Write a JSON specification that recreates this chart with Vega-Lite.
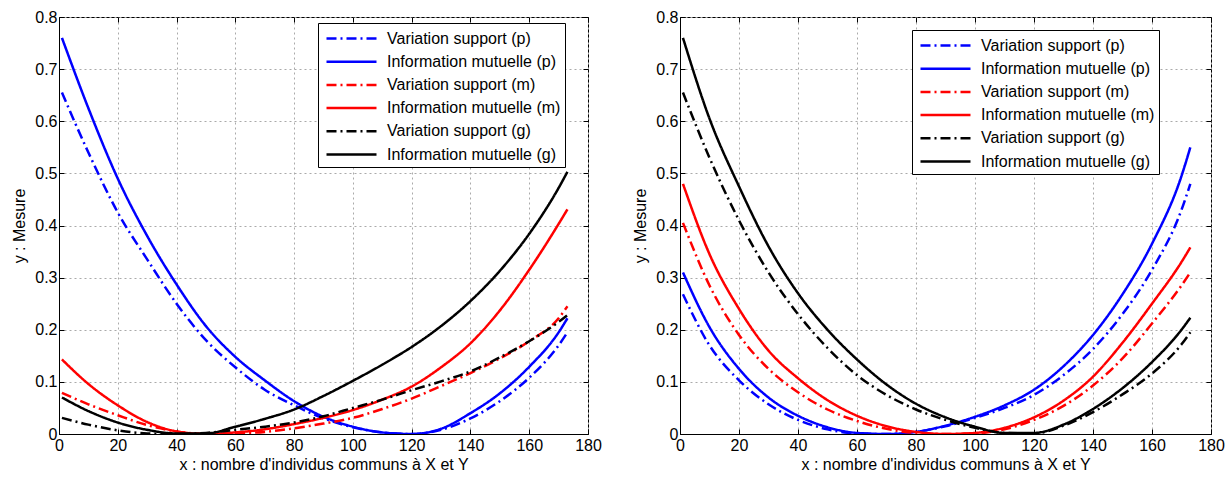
{
  "$schema": "https://vega.github.io/schema/vega-lite/v6.json",
  "background": "white",
  "padding": {"left": 11, "top": 8, "right": 2, "bottom": 2},
  "config": {
    "font": "Liberation Sans",
    "view": {"stroke": "black", "strokeWidth": 1},
    "concat": {"spacing": 30},
    "axis": {
      "labelFont": "Liberation Sans", "labelFontSize": 16, "labelColor": "black", "labelFlush": false,
      "titleFont": "Liberation Sans", "titleFontSize": 16, "titleFontWeight": "normal", "titleColor": "black",
      "domainColor": "black", "tickColor": "black", "tickSize": -5,
      "grid": true, "gridColor": "#aaaaaa", "gridDash": [2, 3], "gridWidth": 1
    },
    "axisX": {"titlePadding": 3, "labelPadding": 8},
    "axisY": {"titlePadding": 7, "labelPadding": 7},
    "legend": {
      "title": null, "fillColor": "white", "strokeColor": "black", "padding": 4,
      "labelFont": "Liberation Sans", "labelFontSize": 16, "labelColor": "black", "labelLimit": 400,
      "symbolType": "M-2.5,0H2.5", "symbolSize": 400, "symbolStrokeWidth": 2.5,
      "symbolOffset": 18, "labelOffset": 24, "rowPadding": 3.2
    }
  },
  "datasets": {
    "left": [
      {"s": "Variation support (p)", "x": 1, "y": 0.655}, {"s": "Variation support (p)", "x": 10, "y": 0.54}, {"s": "Variation support (p)", "x": 20, "y": 0.425}, {"s": "Variation support (p)", "x": 30, "y": 0.335}, {"s": "Variation support (p)", "x": 40, "y": 0.25}, {"s": "Variation support (p)", "x": 50, "y": 0.18}, {"s": "Variation support (p)", "x": 60, "y": 0.128}, {"s": "Variation support (p)", "x": 70, "y": 0.085}, {"s": "Variation support (p)", "x": 80, "y": 0.055}, {"s": "Variation support (p)", "x": 90, "y": 0.03}, {"s": "Variation support (p)", "x": 100, "y": 0.013}, {"s": "Variation support (p)", "x": 110, "y": 0.003}, {"s": "Variation support (p)", "x": 120, "y": 0}, {"s": "Variation support (p)", "x": 130, "y": 0.008}, {"s": "Variation support (p)", "x": 140, "y": 0.03}, {"s": "Variation support (p)", "x": 150, "y": 0.063}, {"s": "Variation support (p)", "x": 160, "y": 0.108}, {"s": "Variation support (p)", "x": 170, "y": 0.17}, {"s": "Variation support (p)", "x": 173, "y": 0.195},
      {"s": "Information mutuelle (p)", "x": 1, "y": 0.76}, {"s": "Information mutuelle (p)", "x": 10, "y": 0.625}, {"s": "Information mutuelle (p)", "x": 20, "y": 0.49}, {"s": "Information mutuelle (p)", "x": 30, "y": 0.38}, {"s": "Information mutuelle (p)", "x": 40, "y": 0.287}, {"s": "Information mutuelle (p)", "x": 50, "y": 0.207}, {"s": "Information mutuelle (p)", "x": 60, "y": 0.148}, {"s": "Information mutuelle (p)", "x": 70, "y": 0.103}, {"s": "Information mutuelle (p)", "x": 80, "y": 0.063}, {"s": "Information mutuelle (p)", "x": 90, "y": 0.033}, {"s": "Information mutuelle (p)", "x": 100, "y": 0.014}, {"s": "Information mutuelle (p)", "x": 110, "y": 0.003}, {"s": "Information mutuelle (p)", "x": 120, "y": 0}, {"s": "Information mutuelle (p)", "x": 130, "y": 0.01}, {"s": "Information mutuelle (p)", "x": 140, "y": 0.04}, {"s": "Information mutuelle (p)", "x": 150, "y": 0.078}, {"s": "Information mutuelle (p)", "x": 160, "y": 0.129}, {"s": "Information mutuelle (p)", "x": 170, "y": 0.195}, {"s": "Information mutuelle (p)", "x": 173, "y": 0.222},
      {"s": "Variation support (m)", "x": 1, "y": 0.079}, {"s": "Variation support (m)", "x": 10, "y": 0.057}, {"s": "Variation support (m)", "x": 20, "y": 0.036}, {"s": "Variation support (m)", "x": 30, "y": 0.017}, {"s": "Variation support (m)", "x": 40, "y": 0.005}, {"s": "Variation support (m)", "x": 50, "y": 0}, {"s": "Variation support (m)", "x": 60, "y": 0.001}, {"s": "Variation support (m)", "x": 70, "y": 0.004}, {"s": "Variation support (m)", "x": 80, "y": 0.011}, {"s": "Variation support (m)", "x": 90, "y": 0.02}, {"s": "Variation support (m)", "x": 100, "y": 0.031}, {"s": "Variation support (m)", "x": 110, "y": 0.048}, {"s": "Variation support (m)", "x": 120, "y": 0.068}, {"s": "Variation support (m)", "x": 130, "y": 0.092}, {"s": "Variation support (m)", "x": 140, "y": 0.117}, {"s": "Variation support (m)", "x": 150, "y": 0.145}, {"s": "Variation support (m)", "x": 160, "y": 0.178}, {"s": "Variation support (m)", "x": 170, "y": 0.222}, {"s": "Variation support (m)", "x": 173, "y": 0.245},
      {"s": "Information mutuelle (m)", "x": 1, "y": 0.143}, {"s": "Information mutuelle (m)", "x": 10, "y": 0.096}, {"s": "Information mutuelle (m)", "x": 20, "y": 0.055}, {"s": "Information mutuelle (m)", "x": 30, "y": 0.023}, {"s": "Information mutuelle (m)", "x": 40, "y": 0.005}, {"s": "Information mutuelle (m)", "x": 50, "y": 0}, {"s": "Information mutuelle (m)", "x": 60, "y": 0.003}, {"s": "Information mutuelle (m)", "x": 70, "y": 0.009}, {"s": "Information mutuelle (m)", "x": 80, "y": 0.019}, {"s": "Information mutuelle (m)", "x": 90, "y": 0.031}, {"s": "Information mutuelle (m)", "x": 100, "y": 0.046}, {"s": "Information mutuelle (m)", "x": 110, "y": 0.066}, {"s": "Information mutuelle (m)", "x": 120, "y": 0.091}, {"s": "Information mutuelle (m)", "x": 130, "y": 0.128}, {"s": "Information mutuelle (m)", "x": 140, "y": 0.174}, {"s": "Information mutuelle (m)", "x": 150, "y": 0.237}, {"s": "Information mutuelle (m)", "x": 160, "y": 0.315}, {"s": "Information mutuelle (m)", "x": 170, "y": 0.403}, {"s": "Information mutuelle (m)", "x": 173, "y": 0.431},
      {"s": "Variation support (g)", "x": 1, "y": 0.031}, {"s": "Variation support (g)", "x": 10, "y": 0.018}, {"s": "Variation support (g)", "x": 20, "y": 0.007}, {"s": "Variation support (g)", "x": 30, "y": 0.001}, {"s": "Variation support (g)", "x": 40, "y": 0}, {"s": "Variation support (g)", "x": 50, "y": 0.002}, {"s": "Variation support (g)", "x": 60, "y": 0.008}, {"s": "Variation support (g)", "x": 70, "y": 0.014}, {"s": "Variation support (g)", "x": 80, "y": 0.022}, {"s": "Variation support (g)", "x": 90, "y": 0.034}, {"s": "Variation support (g)", "x": 100, "y": 0.05}, {"s": "Variation support (g)", "x": 110, "y": 0.066}, {"s": "Variation support (g)", "x": 120, "y": 0.084}, {"s": "Variation support (g)", "x": 130, "y": 0.101}, {"s": "Variation support (g)", "x": 140, "y": 0.12}, {"s": "Variation support (g)", "x": 150, "y": 0.147}, {"s": "Variation support (g)", "x": 160, "y": 0.178}, {"s": "Variation support (g)", "x": 170, "y": 0.215}, {"s": "Variation support (g)", "x": 173, "y": 0.228},
      {"s": "Information mutuelle (g)", "x": 1, "y": 0.07}, {"s": "Information mutuelle (g)", "x": 10, "y": 0.044}, {"s": "Information mutuelle (g)", "x": 20, "y": 0.022}, {"s": "Information mutuelle (g)", "x": 30, "y": 0.008}, {"s": "Information mutuelle (g)", "x": 40, "y": 0.001}, {"s": "Information mutuelle (g)", "x": 50, "y": 0.001}, {"s": "Information mutuelle (g)", "x": 60, "y": 0.014}, {"s": "Information mutuelle (g)", "x": 70, "y": 0.029}, {"s": "Information mutuelle (g)", "x": 80, "y": 0.047}, {"s": "Information mutuelle (g)", "x": 90, "y": 0.073}, {"s": "Information mutuelle (g)", "x": 100, "y": 0.102}, {"s": "Information mutuelle (g)", "x": 110, "y": 0.133}, {"s": "Information mutuelle (g)", "x": 120, "y": 0.167}, {"s": "Information mutuelle (g)", "x": 130, "y": 0.207}, {"s": "Information mutuelle (g)", "x": 140, "y": 0.255}, {"s": "Information mutuelle (g)", "x": 150, "y": 0.313}, {"s": "Information mutuelle (g)", "x": 160, "y": 0.384}, {"s": "Information mutuelle (g)", "x": 170, "y": 0.472}, {"s": "Information mutuelle (g)", "x": 173, "y": 0.503}
    ],
    "right": [
      {"s": "Variation support (p)", "x": 1, "y": 0.268}, {"s": "Variation support (p)", "x": 10, "y": 0.17}, {"s": "Variation support (p)", "x": 20, "y": 0.103}, {"s": "Variation support (p)", "x": 30, "y": 0.057}, {"s": "Variation support (p)", "x": 40, "y": 0.027}, {"s": "Variation support (p)", "x": 50, "y": 0.009}, {"s": "Variation support (p)", "x": 60, "y": 0.001}, {"s": "Variation support (p)", "x": 70, "y": 0}, {"s": "Variation support (p)", "x": 80, "y": 0.004}, {"s": "Variation support (p)", "x": 90, "y": 0.015}, {"s": "Variation support (p)", "x": 100, "y": 0.031}, {"s": "Variation support (p)", "x": 110, "y": 0.05}, {"s": "Variation support (p)", "x": 120, "y": 0.075}, {"s": "Variation support (p)", "x": 130, "y": 0.113}, {"s": "Variation support (p)", "x": 140, "y": 0.163}, {"s": "Variation support (p)", "x": 150, "y": 0.23}, {"s": "Variation support (p)", "x": 160, "y": 0.315}, {"s": "Variation support (p)", "x": 170, "y": 0.43}, {"s": "Variation support (p)", "x": 173, "y": 0.48},
      {"s": "Information mutuelle (p)", "x": 1, "y": 0.31}, {"s": "Information mutuelle (p)", "x": 10, "y": 0.205}, {"s": "Information mutuelle (p)", "x": 20, "y": 0.125}, {"s": "Information mutuelle (p)", "x": 30, "y": 0.07}, {"s": "Information mutuelle (p)", "x": 40, "y": 0.035}, {"s": "Information mutuelle (p)", "x": 50, "y": 0.013}, {"s": "Information mutuelle (p)", "x": 60, "y": 0.002}, {"s": "Information mutuelle (p)", "x": 70, "y": 0}, {"s": "Information mutuelle (p)", "x": 80, "y": 0.004}, {"s": "Information mutuelle (p)", "x": 90, "y": 0.016}, {"s": "Information mutuelle (p)", "x": 100, "y": 0.033}, {"s": "Information mutuelle (p)", "x": 110, "y": 0.055}, {"s": "Information mutuelle (p)", "x": 120, "y": 0.085}, {"s": "Information mutuelle (p)", "x": 130, "y": 0.13}, {"s": "Information mutuelle (p)", "x": 140, "y": 0.19}, {"s": "Information mutuelle (p)", "x": 150, "y": 0.268}, {"s": "Information mutuelle (p)", "x": 160, "y": 0.365}, {"s": "Information mutuelle (p)", "x": 170, "y": 0.495}, {"s": "Information mutuelle (p)", "x": 173, "y": 0.55},
      {"s": "Variation support (m)", "x": 1, "y": 0.405}, {"s": "Variation support (m)", "x": 10, "y": 0.285}, {"s": "Variation support (m)", "x": 20, "y": 0.19}, {"s": "Variation support (m)", "x": 30, "y": 0.125}, {"s": "Variation support (m)", "x": 40, "y": 0.08}, {"s": "Variation support (m)", "x": 50, "y": 0.047}, {"s": "Variation support (m)", "x": 60, "y": 0.025}, {"s": "Variation support (m)", "x": 70, "y": 0.01}, {"s": "Variation support (m)", "x": 80, "y": 0.002}, {"s": "Variation support (m)", "x": 90, "y": 0}, {"s": "Variation support (m)", "x": 100, "y": 0.001}, {"s": "Variation support (m)", "x": 110, "y": 0.009}, {"s": "Variation support (m)", "x": 120, "y": 0.027}, {"s": "Variation support (m)", "x": 130, "y": 0.054}, {"s": "Variation support (m)", "x": 140, "y": 0.093}, {"s": "Variation support (m)", "x": 150, "y": 0.145}, {"s": "Variation support (m)", "x": 160, "y": 0.212}, {"s": "Variation support (m)", "x": 170, "y": 0.285}, {"s": "Variation support (m)", "x": 173, "y": 0.31},
      {"s": "Information mutuelle (m)", "x": 1, "y": 0.48}, {"s": "Information mutuelle (m)", "x": 10, "y": 0.345}, {"s": "Information mutuelle (m)", "x": 20, "y": 0.24}, {"s": "Information mutuelle (m)", "x": 30, "y": 0.16}, {"s": "Information mutuelle (m)", "x": 40, "y": 0.107}, {"s": "Information mutuelle (m)", "x": 50, "y": 0.065}, {"s": "Information mutuelle (m)", "x": 60, "y": 0.035}, {"s": "Information mutuelle (m)", "x": 70, "y": 0.015}, {"s": "Information mutuelle (m)", "x": 80, "y": 0.004}, {"s": "Information mutuelle (m)", "x": 90, "y": 0}, {"s": "Information mutuelle (m)", "x": 100, "y": 0.002}, {"s": "Information mutuelle (m)", "x": 110, "y": 0.012}, {"s": "Information mutuelle (m)", "x": 120, "y": 0.032}, {"s": "Information mutuelle (m)", "x": 130, "y": 0.064}, {"s": "Information mutuelle (m)", "x": 140, "y": 0.11}, {"s": "Information mutuelle (m)", "x": 150, "y": 0.175}, {"s": "Information mutuelle (m)", "x": 160, "y": 0.25}, {"s": "Information mutuelle (m)", "x": 170, "y": 0.33}, {"s": "Information mutuelle (m)", "x": 173, "y": 0.358},
      {"s": "Variation support (g)", "x": 1, "y": 0.655}, {"s": "Variation support (g)", "x": 10, "y": 0.53}, {"s": "Variation support (g)", "x": 20, "y": 0.41}, {"s": "Variation support (g)", "x": 30, "y": 0.31}, {"s": "Variation support (g)", "x": 40, "y": 0.23}, {"s": "Variation support (g)", "x": 50, "y": 0.165}, {"s": "Variation support (g)", "x": 60, "y": 0.113}, {"s": "Variation support (g)", "x": 70, "y": 0.075}, {"s": "Variation support (g)", "x": 80, "y": 0.047}, {"s": "Variation support (g)", "x": 90, "y": 0.027}, {"s": "Variation support (g)", "x": 100, "y": 0.012}, {"s": "Variation support (g)", "x": 110, "y": 0.002}, {"s": "Variation support (g)", "x": 120, "y": 0.001}, {"s": "Variation support (g)", "x": 130, "y": 0.016}, {"s": "Variation support (g)", "x": 140, "y": 0.042}, {"s": "Variation support (g)", "x": 150, "y": 0.076}, {"s": "Variation support (g)", "x": 160, "y": 0.116}, {"s": "Variation support (g)", "x": 170, "y": 0.172}, {"s": "Variation support (g)", "x": 173, "y": 0.195},
      {"s": "Information mutuelle (g)", "x": 1, "y": 0.76}, {"s": "Information mutuelle (g)", "x": 10, "y": 0.605}, {"s": "Information mutuelle (g)", "x": 20, "y": 0.475}, {"s": "Information mutuelle (g)", "x": 30, "y": 0.36}, {"s": "Information mutuelle (g)", "x": 40, "y": 0.27}, {"s": "Information mutuelle (g)", "x": 50, "y": 0.2}, {"s": "Information mutuelle (g)", "x": 60, "y": 0.143}, {"s": "Information mutuelle (g)", "x": 70, "y": 0.095}, {"s": "Information mutuelle (g)", "x": 80, "y": 0.058}, {"s": "Information mutuelle (g)", "x": 90, "y": 0.032}, {"s": "Information mutuelle (g)", "x": 100, "y": 0.014}, {"s": "Information mutuelle (g)", "x": 110, "y": 0.002}, {"s": "Information mutuelle (g)", "x": 120, "y": 0.002}, {"s": "Information mutuelle (g)", "x": 130, "y": 0.018}, {"s": "Information mutuelle (g)", "x": 140, "y": 0.048}, {"s": "Information mutuelle (g)", "x": 150, "y": 0.088}, {"s": "Information mutuelle (g)", "x": 160, "y": 0.138}, {"s": "Information mutuelle (g)", "x": 170, "y": 0.2}, {"s": "Information mutuelle (g)", "x": 173, "y": 0.223}
    ]
  },
  "hconcat": [
    {
      "width": 529, "height": 417,
      "data": {"name": "left"},
      "layer": [
        {
          "mark": {"type": "line", "strokeWidth": 2.5, "interpolate": "monotone", "clip": true},
          "encoding": {
            "x": {"field": "x", "type": "quantitative", "scale": {"domain": [0, 180], "nice": false}, "axis": {"values": [0, 20, 40, 60, 80, 100, 120, 140, 160, 180], "title": "x : nombre d'individus communs à X et Y"}},
            "y": {"field": "y", "type": "quantitative", "scale": {"domain": [0, 0.8], "nice": false}, "axis": {"values": [0, 0.1, 0.2, 0.3, 0.4, 0.5, 0.6, 0.7, 0.8], "format": ".1~f", "title": "y : Mesure"}},
            "color": {"field": "s", "type": "nominal", "scale": {"domain": ["Variation support (p)", "Information mutuelle (p)", "Variation support (m)", "Information mutuelle (m)", "Variation support (g)", "Information mutuelle (g)"], "range": ["#0000ff", "#0000ff", "#ff0000", "#ff0000", "#000000", "#000000"]}, "legend": {"orient": "none", "legendX": 259, "legendY": 6}},
            "strokeDash": {"field": "s", "type": "nominal", "scale": {"domain": ["Variation support (p)", "Information mutuelle (p)", "Variation support (m)", "Information mutuelle (m)", "Variation support (g)", "Information mutuelle (g)"], "range": [[10, 4, 2, 4], [1, 0], [10, 4, 2, 4], [1, 0], [10, 4, 2, 4], [1, 0]]}, "legend": {"orient": "none", "legendX": 259, "legendY": 6}}
          }
        },
        {
          "mark": {"type": "point", "opacity": 0},
          "encoding": {
            "x": {"field": "x", "type": "quantitative", "axis": {"orient": "top", "values": [0, 20, 40, 60, 80, 100, 120, 140, 160, 180], "labels": false, "title": null, "grid": false, "domain": false}},
            "y": {"field": "y", "type": "quantitative", "axis": {"orient": "right", "values": [0, 0.1, 0.2, 0.3, 0.4, 0.5, 0.6, 0.7, 0.8], "labels": false, "title": null, "grid": false, "domain": false}}
          }
        }
      ],
      "resolve": {"axis": {"x": "independent", "y": "independent"}}
    },
    {
      "width": 531, "height": 417,
      "data": {"name": "right"},
      "layer": [
        {
          "mark": {"type": "line", "strokeWidth": 2.5, "interpolate": "monotone", "clip": true},
          "encoding": {
            "x": {"field": "x", "type": "quantitative", "scale": {"domain": [0, 180], "nice": false}, "axis": {"values": [0, 20, 40, 60, 80, 100, 120, 140, 160, 180], "title": "x : nombre d'individus communs à X et Y"}},
            "y": {"field": "y", "type": "quantitative", "scale": {"domain": [0, 0.8], "nice": false}, "axis": {"values": [0, 0.1, 0.2, 0.3, 0.4, 0.5, 0.6, 0.7, 0.8], "format": ".1~f", "title": "y : Mesure"}},
            "color": {"field": "s", "type": "nominal", "scale": {"domain": ["Variation support (p)", "Information mutuelle (p)", "Variation support (m)", "Information mutuelle (m)", "Variation support (g)", "Information mutuelle (g)"], "range": ["#0000ff", "#0000ff", "#ff0000", "#ff0000", "#000000", "#000000"]}, "legend": {"orient": "none", "legendX": 232, "legendY": 13}},
            "strokeDash": {"field": "s", "type": "nominal", "scale": {"domain": ["Variation support (p)", "Information mutuelle (p)", "Variation support (m)", "Information mutuelle (m)", "Variation support (g)", "Information mutuelle (g)"], "range": [[10, 4, 2, 4], [1, 0], [10, 4, 2, 4], [1, 0], [10, 4, 2, 4], [1, 0]]}, "legend": {"orient": "none", "legendX": 232, "legendY": 13}}
          }
        },
        {
          "mark": {"type": "point", "opacity": 0},
          "encoding": {
            "x": {"field": "x", "type": "quantitative", "axis": {"orient": "top", "values": [0, 20, 40, 60, 80, 100, 120, 140, 160, 180], "labels": false, "title": null, "grid": false, "domain": false}},
            "y": {"field": "y", "type": "quantitative", "axis": {"orient": "right", "values": [0, 0.1, 0.2, 0.3, 0.4, 0.5, 0.6, 0.7, 0.8], "labels": false, "title": null, "grid": false, "domain": false}}
          }
        }
      ],
      "resolve": {"axis": {"x": "independent", "y": "independent"}}
    }
  ],
  "resolve": {"scale": {"color": "independent", "strokeDash": "independent"}, "legend": {"color": "independent", "strokeDash": "independent"}}
}
